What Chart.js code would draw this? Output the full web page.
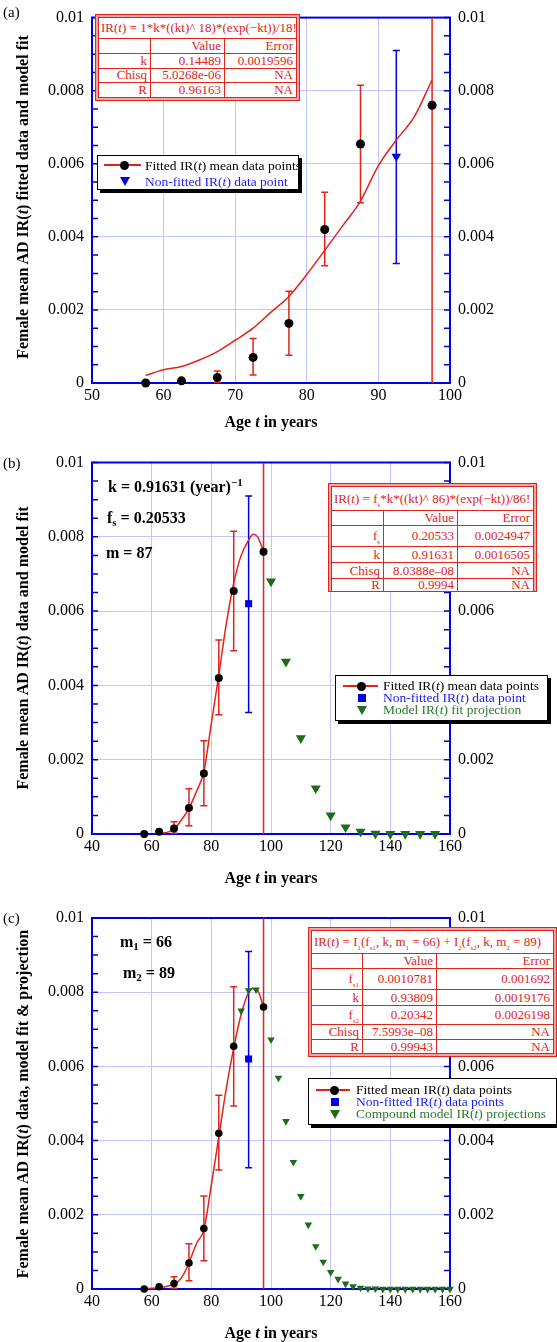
<!DOCTYPE html>
<html><head><meta charset="utf-8">
<script src="https://cdn.jsdelivr.net/npm/chart.js@4/dist/chart.umd.min.js"></script>
<style>
body{margin:0;background:#fff;width:557px;height:1342px;position:relative;overflow:hidden;font-family:"Liberation Serif","Times New Roman",serif;color:#000;}
.pane{position:absolute;left:0;width:557px;}
canvas{display:block}
.abs{position:absolute;white-space:nowrap;}
.plab{font-size:15px;line-height:18px;}
.ytitle{font-weight:bold;font-size:16px;line-height:18px;transform:translate(-50%,-50%) rotate(-90deg);}
.xtitle{font-weight:bold;font-size:16px;line-height:18px;transform:translate(-50%,-50%);}
.ann{font-weight:bold;font-size:16px;line-height:18px;}
.ann sub{font-size:11px;vertical-align:-3px;line-height:0}
.ann sup{font-size:11px;vertical-align:6px;line-height:0}
.tbl{position:absolute;background:#f4a6a6;border:1.5px solid #e2231a;padding:2px;box-sizing:border-box;}
.tbl table{border-collapse:collapse;background:#fff;width:100%;height:100%;color:#e2231a;font-size:13px;table-layout:fixed;}
.tbl td{border:1.3px solid #e2231a;padding:0 3px;text-align:right;line-height:12px;white-space:nowrap;overflow:hidden;}
.tbl td.h{text-align:left;padding-left:2px;}
.tbl sub{font-size:7px;vertical-align:-4px;line-height:0}
.leg{position:absolute;background:#fff;border:1.5px solid #000;box-shadow:3px 3px 0 #000;box-sizing:border-box;}
.lline{position:absolute;height:1.5px;background:#e2231a;}
.ldot{position:absolute;width:9px;height:9px;border-radius:50%;background:#000;}
.ltri{position:absolute;width:0;height:0;border-left:5px solid transparent;border-right:5px solid transparent;border-top:9px solid #0000ee;}
.lsq{position:absolute;width:8px;height:8px;background:#0000ee;}
.ltxt{position:absolute;white-space:nowrap;font-size:13.5px;line-height:14px;}
</style>
</head>
<body>
<div class="pane" style="top:0px"><canvas id="ca" width="557" height="440" style="width:557px;height:440px"></canvas></div>
<div class="pane" style="top:440px"><canvas id="cb" width="557" height="455" style="width:557px;height:455px"></canvas></div>
<div class="pane" style="top:895px"><canvas id="cc" width="557" height="447" style="width:557px;height:447px"></canvas></div>

<!-- Panel (a) overlays -->
<div class="abs plab" style="left:3px;top:3px">(a)</div>
<div class="abs ytitle" style="left:22.5px;top:197px">Female mean AD IR(<i>t</i>) fitted data and model fit</div>
<div class="abs xtitle" style="left:271px;top:422px">Age <i>t</i> in years</div>
<div class="tbl" style="left:95px;top:14px;width:205px;height:87px">
<table>
<colgroup><col style="width:52px"><col style="width:74px"><col></colgroup>
<tr style="height:21px"><td class="h" colspan="3">IR(<i>t</i>) = 1*k*((kt)^ 18)*(exp(−kt))/18!</td></tr>
<tr><td></td><td>Value</td><td>Error</td></tr>
<tr><td>k</td><td>0.14489</td><td>0.0019596</td></tr>
<tr><td>Chisq</td><td>5.0268e-06</td><td>NA</td></tr>
<tr><td>R</td><td>0.96163</td><td>NA</td></tr>
</table></div>
<div class="leg" style="left:97px;top:155px;width:202px;height:35px"></div>
<div class="lline" style="left:104px;top:164px;width:37px"></div>
<div class="ldot" style="left:120px;top:160.5px"></div>
<div class="ltri" style="left:119.5px;top:177px"></div>
<div class="ltxt" style="left:145px;top:158.5px;color:#000">Fitted IR(<i>t</i>) mean data points</div>
<div class="ltxt" style="left:145px;top:174.5px;color:#1a1aff">Non-fitted IR(<i>t</i>) data point</div>

<!-- Panel (b) overlays -->
<div class="abs plab" style="left:3px;top:454px">(b)</div>
<div class="abs ytitle" style="left:22.5px;top:648px">Female mean AD IR(<i>t</i>) data and model fit</div>
<div class="abs xtitle" style="left:271px;top:878px">Age <i>t</i> in years</div>
<div class="abs ann" style="left:108px;top:478px">k = 0.91631 (year)<sup>−1</sup></div>
<div class="abs ann" style="left:107px;top:509px">f<sub>s</sub> = 0.20533</div>
<div class="abs ann" style="left:106px;top:544px">m = 87</div>
<div class="tbl" style="left:328px;top:483px;width:209px;height:109px">
<table>
<colgroup><col style="width:52px"><col style="width:74px"><col></colgroup>
<tr style="height:24px"><td class="h" colspan="3">IR(<i>t</i>) = f<sub>s</sub>*k*((kt)^ 86)*(exp(−kt))/86!</td></tr>
<tr style="height:15px"><td></td><td>Value</td><td>Error</td></tr>
<tr style="height:21px"><td>f<sub>s</sub></td><td>0.20533</td><td>0.0024947</td></tr>
<tr style="height:16px"><td>k</td><td>0.91631</td><td>0.0016505</td></tr>
<tr style="height:16px"><td>Chisq</td><td>8.0388e–08</td><td>NA</td></tr>
<tr><td>R</td><td>0.9994</td><td>NA</td></tr>
</table></div>
<div class="leg" style="left:335px;top:675px;width:213px;height:46px"></div>
<div class="lline" style="left:343px;top:685px;width:35px"></div>
<div class="ldot" style="left:357px;top:681.5px"></div>
<div class="lsq" style="left:357.5px;top:694px"></div>
<div class="ltri" style="left:356.5px;top:705.5px;border-top-color:#1e6b1e"></div>
<div class="ltxt" style="left:383px;top:679px;color:#000">Fitted IR(<i>t</i>) mean data points</div>
<div class="ltxt" style="left:383px;top:691px;color:#1a1aff">Non-fitted IR(<i>t</i>) data point</div>
<div class="ltxt" style="left:383px;top:703px;color:#2a7a2a">Model IR(<i>t</i>) fit projection</div>

<!-- Panel (c) overlays -->
<div class="abs plab" style="left:3px;top:909px">(c)</div>
<div class="abs ytitle" style="left:22.5px;top:1104px">Female mean AD IR(<i>t</i>) data, model fit &amp; projection</div>
<div class="abs xtitle" style="left:271px;top:1333px">Age <i>t</i> in years</div>
<div class="abs ann" style="left:120px;top:933px">m<sub>1</sub> = 66</div>
<div class="abs ann" style="left:123px;top:964px">m<sub>2</sub> = 89</div>
<div class="tbl" style="left:308px;top:927px;width:249px;height:130px">
<table>
<colgroup><col style="width:51px"><col style="width:74px"><col></colgroup>
<tr style="height:23px"><td class="h" colspan="3">IR(<i>t</i>) = I<sub>1</sub>(f<sub>s1</sub>, k, m<sub>1</sub> = 66) + I<sub>2</sub>(f<sub>s2</sub>, k, m<sub>2</sub> = 89)</td></tr>
<tr style="height:15px"><td></td><td>Value</td><td>Error</td></tr>
<tr style="height:21px"><td>f<sub>s1</sub></td><td>0.0010781</td><td>0.001692</td></tr>
<tr style="height:16px"><td>k</td><td>0.93809</td><td>0.0019176</td></tr>
<tr style="height:19px"><td>f<sub>s2</sub></td><td>0.20342</td><td>0.0026198</td></tr>
<tr style="height:15px"><td>Chisq</td><td>7.5993e–08</td><td>NA</td></tr>
<tr><td>R</td><td>0.99943</td><td>NA</td></tr>
</table></div>
<div class="leg" style="left:308px;top:1078px;width:249px;height:47px"></div>
<div class="lline" style="left:316px;top:1089px;width:34px"></div>
<div class="ldot" style="left:330px;top:1085.5px"></div>
<div class="lsq" style="left:330.5px;top:1098px"></div>
<div class="ltri" style="left:329.5px;top:1109.5px;border-top-color:#1e6b1e"></div>
<div class="ltxt" style="left:356px;top:1083px;color:#000">Fitted mean IR(<i>t</i>) data points</div>
<div class="ltxt" style="left:356px;top:1095px;color:#1a1aff">Non-fitted IR(<i>t</i>) data points</div>
<div class="ltxt" style="left:356px;top:1107px;color:#2a7a2a">Compound model IR(<i>t</i>) projections</div>

<script>
// ===== DATA =====
const fitAges    = [57.5, 62.5, 67.5, 72.5, 77.5, 82.5, 87.5, 97.5];
const fitMeans   = [0, 0.00006, 0.00015, 0.0007, 0.00163, 0.0042, 0.00654, 0.0076];
const fitErrLow  = [null, null, 0.00002, 0.00022, 0.00076, 0.00321, 0.00493, null];
const fitErrHigh = [null, null, 0.00033, 0.00122, 0.00251, 0.00522, 0.00815, null];

const nonFitAges    = [92.5];
const nonFitMeans   = [0.0062];
const nonFitErrLow  = [0.00327];
const nonFitErrHigh = [0.0091];

const cutoffAge = [97.5, 97.5];
const cutoffSpan = [0, 0.01];

const curveAgesA = [57.5, 60, 62.5, 65, 67.5, 70, 72.5, 75, 77.5, 80, 82.5, 85, 87.5, 90, 92.5, 95, 97.5];
const curveA     = [0.00021, 0.00036, 0.00045, 0.00063, 0.00086, 0.00117, 0.0015, 0.00194, 0.00237, 0.00297, 0.00363, 0.0043, 0.00498, 0.00595, 0.00665, 0.00728, 0.0083];

const curveAgesB = [62.5, 65, 67.5, 70, 72.5, 75, 77.5, 80, 82.5, 85, 87.5, 90, 92.5, 94, 95.5, 97.5];
const curveB     = [0.00002, 0.00004, 0.00013, 0.00038, 0.00069, 0.00114, 0.00168, 0.00298, 0.00428, 0.00565, 0.00675, 0.0075, 0.00791, 0.00807, 0.008, 0.00761];

const curveAgesC = [57.5, 60, 62.5, 65, 67.5, 70, 72.5, 75, 77.5, 80, 82.5, 85, 87.5, 90, 92.5, 94, 95.5, 97.5];
const curveC     = [0.00001, 0.00002, 0.00004, 0.00007, 0.00013, 0.0003, 0.0007, 0.00122, 0.0016, 0.0028, 0.0041, 0.0054, 0.0065, 0.0074, 0.008, 0.0081, 0.00805, 0.0076];

const projAgesB = [100, 105, 110, 115, 120, 125, 130, 135, 140, 145, 150, 155];
const projB     = [0.0068, 0.00464, 0.00258, 0.00123, 0.0005, 0.00018, 0.00006, 0.00001, 0, 0, 0, 0];

const projAgesC = [90, 92.5, 95, 97.5, 100, 102.5, 105, 107.5, 110, 112.5, 115, 117.5, 120, 122.5, 125, 127.5, 130,
                   132.5, 135, 137.5, 140, 142.5, 145, 147.5, 150, 152.5, 155, 157.5, 160];
const projC     = [0.0075, 0.00805, 0.00807, 0.0076, 0.00672, 0.00569, 0.00452, 0.00342, 0.0025, 0.00173, 0.00115, 0.00073, 0.00045, 0.00027, 0.00014, 0.00007, 0.00003,
                   0.00001, 0.00001, 0, 0, 0, 0, 0, 0, 0, 0, 0, 0];

const xTicksA  = [50, 60, 70, 80, 90, 100];
const xTicksBC = [40, 60, 80, 100, 120, 140, 160];
const yTicks      = [0, 0.002, 0.004, 0.006, 0.008, 0.01];
const yTickLabels = ['0', '0.002', '0.004', '0.006', '0.008', '0.01'];
const yMinorStep = 0.0005;

// ===== STYLE =====
const FONT = '"Liberation Serif", "Times New Roman", serif';
const BLUE = '#0000e6';
const RED = '#e2231a';
const GREEN = '#1e6b1e';
const GRID = 'rgb(196,196,255)';

const zip = (xs, ys) => xs.map((x, i) => ({x, y: ys[i]}));

const framePlugin = {
  id: 'frame',
  beforeDatasetsDraw(chart, args, opts) {
    const {ctx, chartArea: a, scales: {x, y}} = chart;
    ctx.save();
    ctx.strokeStyle = BLUE;
    ctx.lineWidth = 1.5;
    const n = Math.round((y.max - y.min) / yMinorStep);
    for (let i = 0; i <= n; i++) {
      const py = y.getPixelForValue(y.min + i * yMinorStep);
      ctx.beginPath();
      ctx.moveTo(a.left, py); ctx.lineTo(a.left + 6, py);
      ctx.moveTo(a.right, py); ctx.lineTo(a.right - 6, py);
      ctx.stroke();
    }
    ctx.lineWidth = 2;
    ctx.strokeRect(a.left, a.top, a.right - a.left, a.bottom - a.top);
    (opts.bars || []).forEach(b => {
      ctx.strokeStyle = b.color;
      ctx.lineWidth = 1.5;
      b.x.forEach((xv, i) => {
        if (b.lo[i] == null || b.hi[i] == null) return;
        const px = x.getPixelForValue(xv);
        const p1 = y.getPixelForValue(b.lo[i]);
        const p2 = y.getPixelForValue(b.hi[i]);
        ctx.beginPath();
        ctx.moveTo(px, p1); ctx.lineTo(px, p2);
        ctx.moveTo(px - 3.5, p1); ctx.lineTo(px + 3.5, p1);
        ctx.moveTo(px - 3.5, p2); ctx.lineTo(px + 3.5, p2);
        ctx.stroke();
      });
    });
    ctx.restore();
  }
};

function buildChart(id, o) {
  const tickFont = {family: FONT, size: 16};
  const yLabel = v => { const i = yTicks.findIndex(t => Math.abs(t - v) < 1e-9); return i >= 0 ? yTickLabels[i] : ''; };
  return new Chart(document.getElementById(id), {
    type: 'scatter',
    data: {datasets: o.datasets},
    options: {
      responsive: false, animation: false, devicePixelRatio: 1,
      layout: {padding: {top: o.padTop, left: 0, right: 0, bottom: 0}},
      plugins: {legend: {display: false}, tooltip: {enabled: false}, frame: {bars: o.bars}},
      scales: {
        x: {
          type: 'linear', min: o.xMin, max: o.xMax,
          afterFit(s) { s.height = o.xH; },
          afterBuildTicks(s) { s.ticks = o.xTicks.map(v => ({value: v})); },
          ticks: {color: '#000', font: tickFont, padding: 3, maxRotation: 0, autoSkip: false, callback: v => String(v)},
          grid: {drawTicks: false, color: GRID, lineWidth: 1},
          border: {display: false}
        },
        y: {
          type: 'linear', position: 'left', min: 0, max: 0.01,
          afterFit(s) { s.width = 92; },
          afterBuildTicks(s) { s.ticks = yTicks.map(v => ({value: v})); },
          ticks: {color: '#000', font: tickFont, padding: 8, autoSkip: false, callback: yLabel},
          grid: {drawTicks: false, color: GRID, lineWidth: 1},
          border: {display: false}
        },
        y2: {
          type: 'linear', position: 'right', min: 0, max: 0.01,
          afterFit(s) { s.width = 107; },
          afterBuildTicks(s) { s.ticks = yTicks.map(v => ({value: v})); },
          ticks: {color: '#000', font: tickFont, padding: 8, autoSkip: false, callback: yLabel},
          grid: {display: false, drawTicks: false},
          border: {display: false}
        }
      }
    },
    plugins: [framePlugin]
  });
}

const fittedDs = r => ({data: zip(fitAges, fitMeans), pointStyle: 'circle', pointRadius: r, backgroundColor: '#000', borderColor: '#000', borderWidth: 0, clip: false});
const curveDs = (xs, ys) => ({data: zip(xs, ys), showLine: true, borderColor: RED, borderWidth: 1.5, pointRadius: 0, cubicInterpolationMode: 'monotone'});
const cutoffDs = () => ({data: zip(cutoffAge, cutoffSpan), showLine: true, borderColor: RED, borderWidth: 1.5, pointRadius: 0});
const fitBars = {x: fitAges, lo: fitErrLow, hi: fitErrHigh, color: RED};
const nonFitBars = {x: nonFitAges, lo: nonFitErrLow, hi: nonFitErrHigh, color: BLUE};

// Panel (a)
buildChart('ca', {
  padTop: 12, xH: 57, xMin: 50, xMax: 100, xTicks: xTicksA,
  bars: [fitBars, nonFitBars],
  datasets: [
    fittedDs(4.5),
    {data: zip(nonFitAges, nonFitMeans), pointStyle: 'triangle', rotation: 180, pointRadius: 5.5, backgroundColor: BLUE, borderColor: BLUE, borderWidth: 0, clip: false},
    curveDs(curveAgesA, curveA),
    cutoffDs()
  ]
});

// Panel (b)
buildChart('cb', {
  padTop: 22.5, xH: 61, xMin: 40, xMax: 160, xTicks: xTicksBC,
  bars: [fitBars, nonFitBars],
  datasets: [
    fittedDs(4),
    {data: zip(nonFitAges, nonFitMeans), pointStyle: 'rect', pointRadius: 5, backgroundColor: BLUE, borderColor: BLUE, borderWidth: 0, clip: false},
    {data: zip(projAgesB, projB), pointStyle: 'triangle', rotation: 180, pointRadius: 5.8, backgroundColor: GREEN, borderColor: GREEN, borderWidth: 0, clip: false},
    curveDs(curveAgesB, curveB),
    cutoffDs()
  ]
});

// Panel (c)
buildChart('cc', {
  padTop: 23, xH: 53, xMin: 40, xMax: 160, xTicks: xTicksBC,
  bars: [fitBars, nonFitBars],
  datasets: [
    fittedDs(3.8),
    {data: zip(nonFitAges, nonFitMeans), pointStyle: 'rect', pointRadius: 5, backgroundColor: BLUE, borderColor: BLUE, borderWidth: 0, clip: false},
    {data: zip(projAgesC, projC), pointStyle: 'triangle', rotation: 180, pointRadius: 4.4, backgroundColor: GREEN, borderColor: GREEN, borderWidth: 0, clip: false},
    curveDs(curveAgesC, curveC),
    cutoffDs()
  ]
});
</script>
</body></html>
